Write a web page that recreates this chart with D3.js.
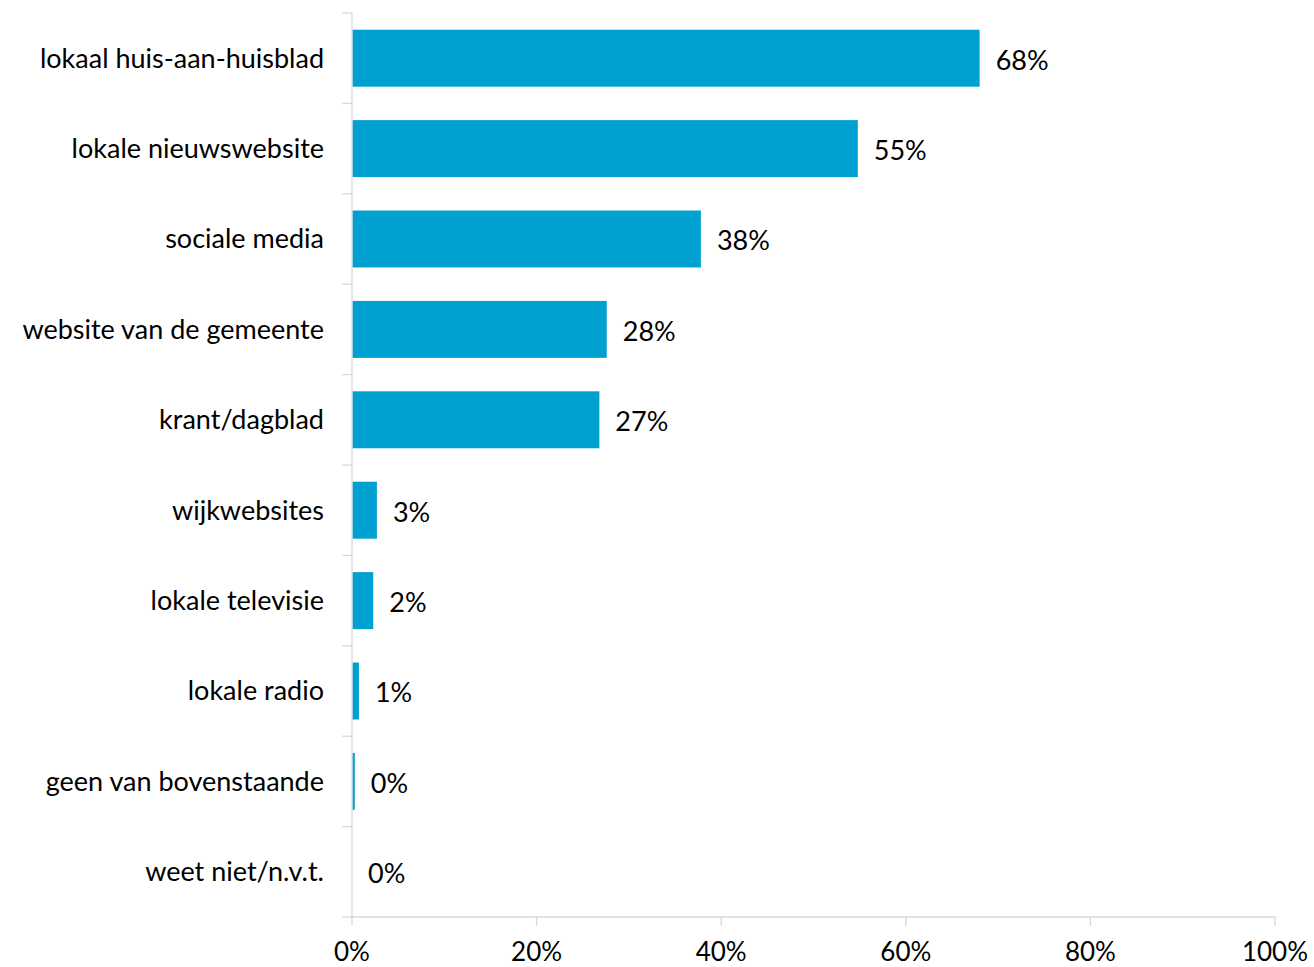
<!DOCTYPE html>
<html><head><meta charset="utf-8">
<script src="https://cdn.jsdelivr.net/npm/d3@7"></script>
<style>body{margin:0;background:#fff}svg{display:block}text{font-family:Lato,"Open Sans",sans-serif;fill:#000}</style>
</head><body>
<svg id="c" width="1314" height="967"></svg>
<script>
const categories = ["lokaal huis-aan-huisblad","lokale nieuwswebsite","sociale media","website van de gemeente","krant/dagblad","wijkwebsites","lokale televisie","lokale radio","geen van bovenstaande","weet niet/n.v.t."];
const values = [68.0, 54.8, 37.8, 27.6, 26.8, 2.7, 2.3, 0.75, 0.3, 0];
const valueLabels = ["68%","55%","38%","28%","27%","3%","2%","1%","0%","0%"];
const xTicks = [0,20,40,60,80,100];

(function(){
const svg = d3.select("#c");
const pL = 352, pR = 1275, pT = 13, pB = 917;
const fs = "27px";
const x = d3.scaleLinear().domain([0,100]).range([pL,pR]);
const y = d3.scaleBand().domain(categories).range([pT,pB]).paddingInner(0.37).paddingOuter(0.185);
const axisColor = "#d9d9d9";

svg.append("line").attr("x1",pL).attr("x2",pL).attr("y1",pT).attr("y2",pB).attr("stroke",axisColor).attr("stroke-width",1.3);
const step = (pB-pT)/categories.length;
d3.range(categories.length+1).forEach(i=>{
  svg.append("line").attr("x1",pL-10).attr("x2",pL).attr("y1",pT+i*step).attr("y2",pT+i*step).attr("stroke",axisColor).attr("stroke-width",1.3);
});
svg.append("line").attr("x1",pL).attr("x2",pR).attr("y1",pB).attr("y2",pB).attr("stroke",axisColor).attr("stroke-width",1.3);
xTicks.forEach(t=>{
  svg.append("line").attr("x1",x(t)).attr("x2",x(t)).attr("y1",pB).attr("y2",pB+9).attr("stroke",axisColor).attr("stroke-width",1.3);
  svg.append("text").attr("x",Math.min(x(t),1276)).attr("y",961).attr("text-anchor","middle").style("font-size","26px").text(t+"%");
});

svg.selectAll("rect.bar").data(categories).join("rect").attr("class","bar")
  .attr("x",pL+0.7).attr("y",d=>y(d)).attr("height",y.bandwidth())
  .attr("width",(d,i)=>Math.max(0,x(values[i])-pL-0.7)).attr("fill","#00a0d0");

svg.selectAll("text.cat").data(categories).join("text").attr("class","cat")
  .attr("x",324).attr("y",d=>y(d)+y.bandwidth()/2).attr("dy","0.35em").attr("text-anchor","end")
  .style("font-size",fs).text(d=>d);

svg.selectAll("text.val").data(categories).join("text").attr("class","val")
  .attr("x",(d,i)=>x(values[i])+16).attr("y",d=>y(d)+y.bandwidth()/2+2).attr("dy","0.35em")
  .style("font-size",fs).text((d,i)=>valueLabels[i]);
})();
</script>
</body></html>
